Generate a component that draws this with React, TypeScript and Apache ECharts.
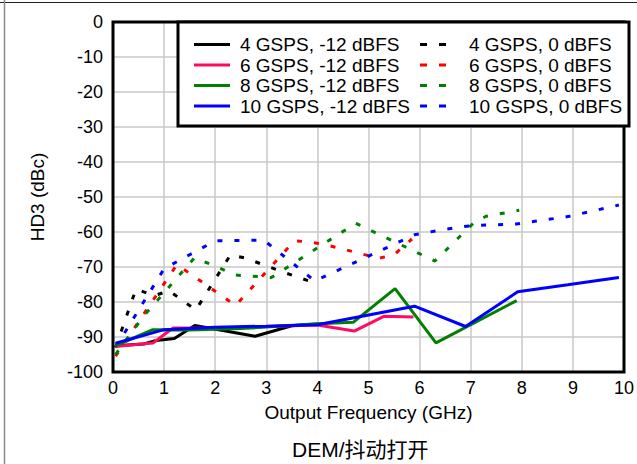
import React, { useEffect, useRef } from "react";
import * as echarts from "echarts";

const xTicks = [0, 1, 2, 3, 4, 5, 6, 7, 8, 9, 10];
const yTicks = [0, -10, -20, -30, -40, -50, -60, -70, -80, -90, -100];

const seriesNames = [
  "4 GSPS, -12 dBFS",
  "6 GSPS, -12 dBFS",
  "8 GSPS, -12 dBFS",
  "10 GSPS, -12 dBFS",
  "4 GSPS, 0 dBFS",
  "6 GSPS, 0 dBFS",
  "8 GSPS, 0 dBFS",
  "10 GSPS, 0 dBFS",
];

const gsps4Low = [
  [0.05, -92.5], [0.6, -92], [0.85, -91], [1.2, -90.4], [1.6, -86.7],
  [2.78, -89.8], [3.5, -86.8], [4.0, -86.3],
];
const gsps6Low = [
  [0.05, -92.7], [0.55, -92], [0.78, -91.7], [1.18, -87.4], [2.0, -87.5],
  [3.0, -87], [4.0, -86.6], [4.72, -88.3], [5.3, -84.1], [5.88, -84.3],
];
const gsps8Low = [
  [0.05, -92.5], [0.78, -87.9], [1.5, -88], [2.5, -87.6], [4.0, -86.2],
  [4.7, -85.8], [5.52, -76.2], [6.32, -91.7], [7.9, -79.6],
];
const gsps10Low = [
  [0.05, -91.8], [1.0, -87.9], [2.0, -87.2], [3.0, -86.9], [4.0, -86.5],
  [5.9, -81.2], [6.9, -87], [7.92, -77.1], [8.9, -75.1], [9.9, -73],
];
const gsps4Full = [
  [0.05, -93], [0.45, -76.3], [0.8, -78.2], [1.1, -76.8], [1.62, -82.3],
  [2.3, -66.5], [2.6, -67.5], [3.3, -71.3], [4.0, -74.8],
];
const gsps6Full = [
  [0.05, -95.5], [1.25, -69.3], [2.4, -81], [3.55, -62.5], [3.8, -62.8],
  [4.1, -63.4], [5.2, -67.5], [5.5, -66.5], [5.85, -62],
];
const gsps8Full = [
  [0.05, -95], [0.6, -84], [1.6, -67.3], [2.4, -72.3], [3.1, -73],
  [4.75, -57.5], [6.3, -68.3], [7.05, -57.5], [7.3, -55.5], [7.95, -53.8],
];
const gsps10Full = [
  [0.05, -93], [1.0, -70.5], [2.0, -62.5], [2.95, -62.3], [3.95, -74],
  [5.9, -60.8], [6.5, -59.2], [7.0, -58.2], [7.9, -57.7], [8.9, -55.6],
  [9.9, -52.3],
];

const seriesData = [
  gsps4Low, gsps6Low, gsps8Low, gsps10Low,
  gsps4Full, gsps6Full, gsps8Full, gsps10Full,
];
const seriesColors = [
  "#000000", "#ff0a5e", "#008000", "#0000ff",
  "#000000", "#ff0000", "#008000", "#0000ff",
];

const FONT = "'Liberation Sans', Arial, 'Noto Sans CJK SC', sans-serif";
const SOLID_ICON = "path://M0 0h36v3h-36z";
const DASH_ICON = "path://M0 0h7v3h-7zM19 0h7v3h-7z";

export default function App() {
  const ref = useRef<HTMLDivElement>(null);
  useEffect(() => {
    if (!ref.current) return;
    const chart = echarts.init(ref.current, undefined, { renderer: "svg" });
    const series = seriesNames.map((name, i) => ({
      name,
      type: "line",
      data: seriesData[i],
      symbol: "none",
      showSymbol: false,
      z: i < 4 ? 3 : 2,
      lineStyle: {
        color: seriesColors[i],
        width: 3,
        type: i < 4 ? "solid" : [5, 12],
        cap: "butt",
      },
      itemStyle: { color: seriesColors[i] },
    }));
    const textStyle = { fontFamily: FONT, fontSize: 19, color: "#000" };
    chart.setOption({
      animation: false,
      backgroundColor: "#ffffff",
      grid: {
        left: 113,
        right: 8,
        top: 22,
        bottom: 92,
        show: true,
        borderColor: "#000",
        borderWidth: 3,
        z: 4,
      },
      title: {
        text: "DEM/抖动打开",
        left: 292,
        top: 439,
        padding: 0,
        textStyle: { fontFamily: FONT, fontSize: 21, fontWeight: "normal", color: "#000" },
      },
      legend: [
        {
          orient: "vertical",
          left: 194,
          top: 35,
          itemWidth: 36,
          itemHeight: 3,
          itemGap: 1.5,
          padding: 0,
          z: 6,
          selectedMode: false,
          icon: SOLID_ICON,
          data: seriesNames.slice(0, 4),
          textStyle: { ...textStyle, padding: [0, 0, 0, 5] },
        },
        {
          orient: "vertical",
          left: 420,
          top: 35,
          itemWidth: 26,
          itemHeight: 3,
          itemGap: 1.5,
          padding: 0,
          z: 6,
          selectedMode: false,
          icon: DASH_ICON,
          data: seriesNames.slice(4),
          textStyle: { ...textStyle, padding: [0, 0, 0, 18] },
        },
      ],
      xAxis: {
        type: "value",
        min: xTicks[0],
        max: xTicks[xTicks.length - 1],
        interval: 1,
        name: "Output Frequency (GHz)",
        nameLocation: "middle",
        nameGap: 31,
        nameTextStyle: textStyle,
        axisLine: { show: false },
        axisTick: { show: false },
        axisLabel: { fontFamily: FONT, fontSize: 18, color: "#000", margin: 7 },
        splitLine: { show: true, lineStyle: { color: "#c8c8c8", width: 1.5 } },
      },
      yAxis: {
        type: "value",
        min: yTicks[yTicks.length - 1],
        max: yTicks[0],
        interval: 10,
        name: "HD3 (dBc)",
        nameLocation: "middle",
        nameGap: 66,
        nameTextStyle: textStyle,
        axisLine: { show: false },
        axisTick: { show: false },
        axisLabel: { fontFamily: FONT, fontSize: 18, color: "#000", margin: 10 },
        splitLine: { show: true, lineStyle: { color: "#c8c8c8", width: 1.5 } },
      },
      graphic: [
        {
          type: "rect",
          z: 5,
          shape: { x: 178, y: 22, width: 451, height: 104 },
          style: { fill: "#ffffff", stroke: "#000000", lineWidth: 3 },
        },
        {
          type: "line",
          z: 5,
          shape: { x1: 0, y1: 2.5, x2: 637, y2: 2.5 },
          style: { stroke: "#222222", lineWidth: 1 },
        },
        {
          type: "line",
          z: 5,
          shape: { x1: 4.5, y1: 0, x2: 4.5, y2: 464 },
          style: { stroke: "#8a8a8a", lineWidth: 1.5 },
        },
      ],
      series,
    });
    return () => chart.dispose();
  }, []);
  return (
    <div
      ref={ref}
      style={{ position: "absolute", left: 0, top: 0, width: 637, height: 464 }}
    />
  );
}
